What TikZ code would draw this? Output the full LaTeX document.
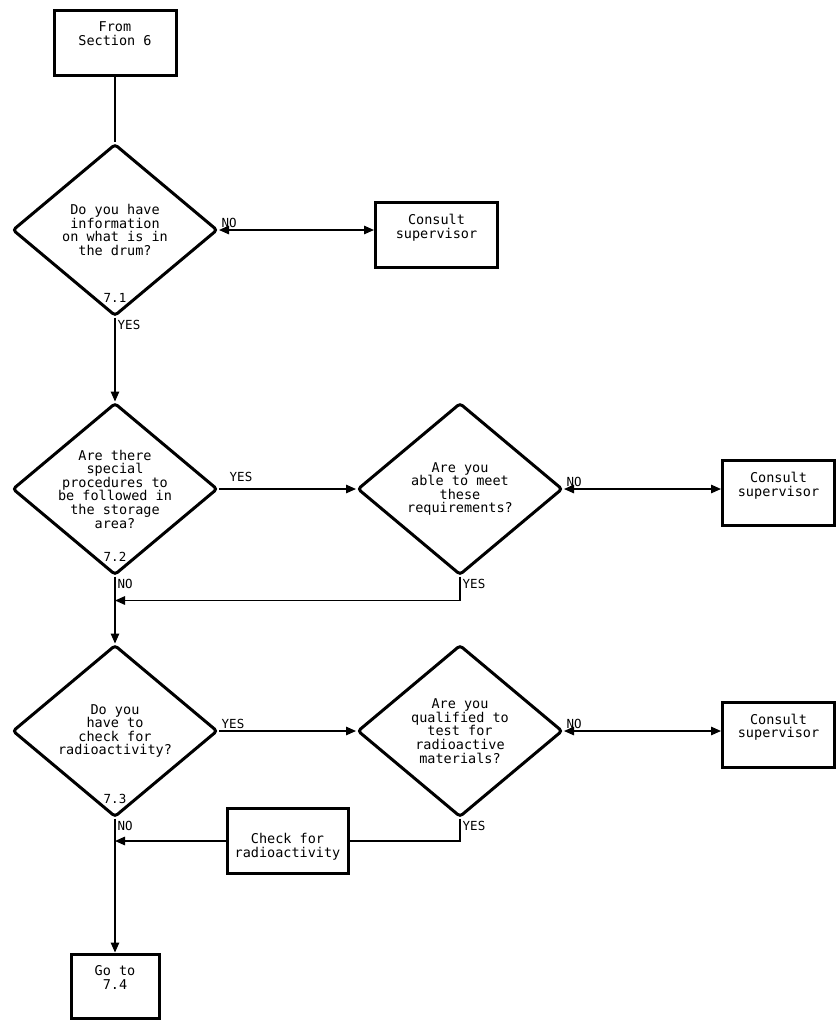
\documentclass[tikz,border=0pt]{standalone}
\usepackage{fontspec}
\newfontfamily\plotfont{DejaVu Sans Mono}
\usetikzlibrary{positioning}
\usetikzlibrary{arrows.meta}
\usetikzlibrary{shapes.geometric}

\begin{document}
\begin{tikzpicture}[x=1pt,y=-1pt,
 every node/.style={font=\plotfont\fontsize{13.5}{13.6}\selectfont},
 >={Triangle[length=10pt,width=8.5pt]},
 conn/.style={line width=1.4pt},
 box/.style={draw,line width=3pt,minimum width=122pt,minimum height=65pt,inner sep=0pt},
 boxtext/.style={anchor=north,align=center,inner sep=0pt,yshift=-13pt},
 decision/.style={draw,diamond,aspect=1.19,line width=3pt,rounded corners=3pt,
 inner sep=-8pt,minimum width=205pt,minimum height=172pt,align=center},
 lbl/.style={inner sep=2pt,font=\plotfont\fontsize{12.5}{13}\selectfont}]

  \useasboundingbox (0,0) rectangle (838,1020);

  % main column
  \node[decision] (d1) at (115,230) {Do you have\\information\\on what is in\\the drum?};
  \node[box,above=66pt of d1,label={[boxtext]north:From\\Section 6}] (s6) {};
  \node[box,right=155pt of d1,yshift=-5pt,label={[boxtext]north:Consult\\supervisor}] (c1) {};

  \node[decision] (d2) at (115,489) {Are there\\special\\procedures to\\be followed in\\the storage\\area?};
  \node[decision,right=137pt of d2] (d3) {Are you\\able to meet\\these\\requirements?};
  \node[box,right=157pt of d3,yshift=-4pt,minimum width=112pt,
   label={[boxtext]north:Consult\\supervisor}] (c2) {};
  \coordinate[below=24pt of d2.south] (j2);

  \node[decision] (d4) at (115,731) {Do you\\have to\\check for\\radioactivity?};
  \node[decision,right=137pt of d4] (d5) {Are you\\qualified to\\test for\\radioactive\\materials?};
  \node[box,right=157pt of d5,yshift=-3.5pt,minimum width=112pt,
   label={[boxtext]north:Consult\\supervisor}] (c3) {};
  \node[box,minimum width=121pt,label={[boxtext,yshift=-13pt]north:Check for\\radioactivity}] (ck) at (287.5,841) {};
  \node[box,below=134pt of d4,minimum width=88pt,minimum height=64pt,
   label={[boxtext]north:Go to\\7.4}] (g74) {};

  % connectors
  \draw[conn] (s6) -- (d1);
  \draw[conn,->] (d1.south) node[lbl,above=12pt] (n71) {7.1}
   node[lbl,below right] (y1) {YES} -- (d2.north);
  \draw[conn,<->] (d1.east) node[lbl,above right] (no1) {NO} -- (d1.east -| c1.west);

  \draw[conn,->] (d2.east) node[lbl,above right=5pt and 8pt] (y2) {YES} -- (d3.west);
  \draw[conn,<->] (d3.east) node[lbl,above right] (no3) {NO} -- (d3.east -| c2.west);
  \draw[conn,->] (d3.south) node[lbl,below right] (y3) {YES} |- (j2);
  \draw[conn,->] (d2.south) node[lbl,above=12pt] (n72) {7.2}
   node[lbl,below right] (no2) {NO} -- (d4.north);

  \draw[conn,->] (d4.east) node[lbl,above right] (y4) {YES} -- (d5.west);
  \draw[conn,<->] (d5.east) node[lbl,above right] (no5) {NO} -- (d5.east -| c3.west);
  \draw[conn] (d5.south) node[lbl,below right] (y5) {YES} |- (ck.east);
  \draw[conn,->] (ck.west) -- (ck.west -| d4.south);
  \draw[conn,->] (d4.south) node[lbl,above=12pt] (n73) {7.3}
   node[lbl,below right] (no4) {NO} -- (g74.north);

\end{tikzpicture}
\end{document}
